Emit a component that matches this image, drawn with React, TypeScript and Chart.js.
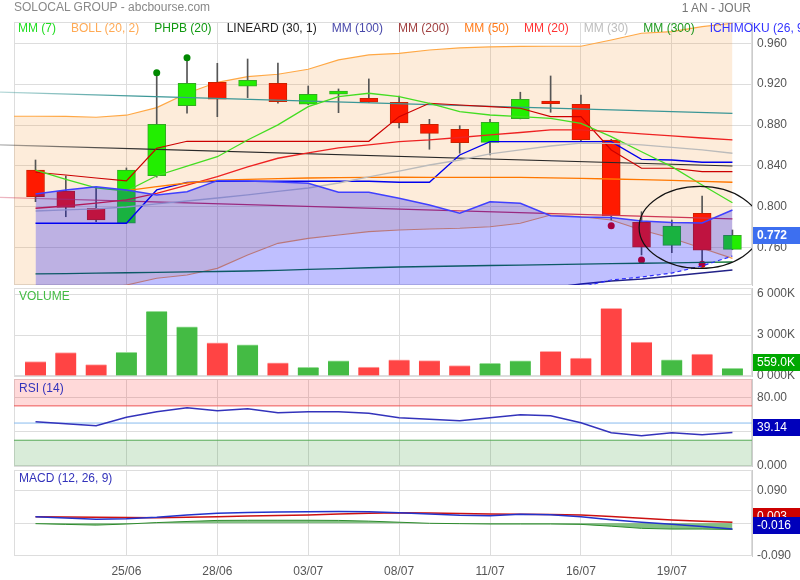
import React, { useEffect, useRef } from "react";
import { Chart, registerables } from "chart.js";

Chart.register(...registerables);

const FONT = 'Arial, "Liberation Sans", Helvetica, sans-serif';

// ---------------- data ----------------
const DATES = ["20/06", "21/06", "22/06", "25/06", "26/06", "27/06", "28/06", "29/06", "02/07", "03/07", "04/07", "05/07",
  "08/07", "09/07", "10/07", "11/07", "12/07", "15/07", "16/07", "17/07", "18/07", "19/07", "22/07", "23/07"];
const LABELED_DAYS = [3, 6, 9, 12, 15, 18, 21];

const OPEN = [0.8360, 0.8155, 0.7986, 0.7839, 0.8305, 0.8989, 0.9218, 0.9179, 0.9209, 0.9003, 0.9101, 0.9062,
  0.9023, 0.8807, 0.8758, 0.8631, 0.8862, 0.9035, 0.9003, 0.8654, 0.7849, 0.7623, 0.7937, 0.7584];
const HIGH = [0.8458, 0.8302, 0.8187, 0.8380, 0.9312, 0.9459, 0.9404, 0.9446, 0.9407, 0.9182, 0.9153, 0.9251,
  0.9084, 0.8856, 0.8794, 0.8856, 0.9121, 0.9280, 0.9094, 0.8660, 0.7952, 0.7871, 0.8106, 0.7773];
const LOW = [0.8050, 0.7903, 0.7854, 0.7839, 0.8290, 0.8915, 0.8882, 0.9068, 0.9013, 0.9000, 0.8921, 0.9020,
  0.8771, 0.8563, 0.8524, 0.8507, 0.8860, 0.8925, 0.8637, 0.7871, 0.7529, 0.7551, 0.7470, 0.7580];
const CLOSE = [0.8099, 0.7995, 0.7871, 0.8360, 0.8807, 0.9209, 0.9052, 0.9238, 0.9029, 0.9101, 0.9133, 0.9023,
  0.8820, 0.8719, 0.8627, 0.8827, 0.9052, 0.9009, 0.8657, 0.7910, 0.7604, 0.7812, 0.7575, 0.7720];

// volume in thousands
const VOLUME = [1060, 1720, 830, 1730, 4740, 3590, 2430, 2290, 970, 630, 1110, 650,
  1190, 1120, 770, 920, 1110, 1800, 1310, 4950, 2490, 1190, 1610, 559];

// Bollinger (20, 2) – first value is the day before the visible window
const BOLL_UPPER = [0.8886, 0.8886, 0.8884, 0.8876, 0.8896, 0.8970, 0.9111, 0.9218, 0.9273, 0.9297, 0.9346, 0.9437,
  0.9486, 0.9502, 0.9534, 0.9554, 0.9564, 0.9569, 0.9571, 0.9571, 0.9632, 0.9698, 0.9714, 0.9762, 0.9796];
const BOLL_LOWER = [0.7088, 0.7108, 0.7147, 0.7186, 0.7235, 0.7301, 0.7333, 0.7398, 0.7529, 0.7643, 0.7692, 0.7724,
  0.7757, 0.7773, 0.7783, 0.7790, 0.7805, 0.7839, 0.7920, 0.7903, 0.7871, 0.7773, 0.7692, 0.7594, 0.7496];

const MM7 = [0.8360, 0.8269, 0.8185, 0.8155, 0.8304, 0.8399, 0.8490, 0.8654, 0.8801, 0.8980, 0.9078, 0.9111,
  0.9078, 0.9013, 0.8931, 0.8898, 0.8882, 0.8866, 0.8817, 0.8686, 0.8539, 0.8393, 0.8213, 0.8040];
const MM20 = [0.7986, 0.8008, 0.8037, 0.8067, 0.8132, 0.8213, 0.8295, 0.8390, 0.8475, 0.8527, 0.8576, 0.8605,
  0.8637, 0.8654, 0.8678, 0.8703, 0.8727, 0.8752, 0.8752, 0.8735, 0.8713, 0.8693, 0.8673, 0.8654];
const MM30 = [0.7959, 0.7969, 0.7979, 0.7998, 0.8028, 0.8057, 0.8086, 0.8116, 0.8150, 0.8184, 0.8233, 0.8292,
  0.8350, 0.8409, 0.8458, 0.8517, 0.8556, 0.8595, 0.8622, 0.8620, 0.8605, 0.8582, 0.8556, 0.8524];
const MM50_START = 3;
const MM50 = [0.8158, 0.8197, 0.8233, 0.8262, 0.8269, 0.8275, 0.8282, 0.8285, 0.8287, 0.8289, 0.8287,
  0.8287, 0.8287, 0.8287, 0.8284, 0.8279, 0.8272, 0.8265, 0.8258, 0.8249, 0.8240];
const MM100_START = 16;
const MM100 = [0.7150, 0.7206, 0.7245, 0.7274, 0.7294, 0.7323, 0.7352, 0.7381];
const MM300 = [0.7343, 0.7347, 0.7351, 0.7355, 0.7359, 0.7363, 0.7367, 0.7372, 0.7378, 0.7387, 0.7396, 0.7404,
  0.7411, 0.7416, 0.7421, 0.7426, 0.7430, 0.7434, 0.7440, 0.7444, 0.7448, 0.7452, 0.7456, 0.7460];

// Ichimoku
const TENKAN = [0.8338, 0.8311, 0.8282, 0.8253, 0.8573, 0.8641, 0.8641, 0.8641, 0.8641, 0.8641, 0.8641, 0.8641,
  0.8882, 0.9013, 0.8996, 0.8980, 0.8964, 0.8882, 0.8882, 0.8556, 0.8377, 0.8377, 0.8344, 0.8344];
const KIJUN = [0.7839, 0.7839, 0.7839, 0.7839, 0.8165, 0.8240, 0.8250, 0.8250, 0.8250, 0.8250, 0.8250, 0.8250,
  0.8240, 0.8240, 0.8507, 0.8637, 0.8637, 0.8637, 0.8637, 0.8637, 0.8465, 0.8458, 0.8436, 0.8436];
const CLOUD_TOP = [0.8125, 0.8165, 0.8197, 0.8165, 0.8116, 0.8148, 0.8256, 0.8253, 0.8243, 0.8230, 0.8142, 0.8142,
  0.8083, 0.8018, 0.7937, 0.8050, 0.8034, 0.7913, 0.7900, 0.7896, 0.7861, 0.7847, 0.7842, 0.7969];
const CLOUD_BOTTOM = [0.705, 0.705, 0.706, 0.706, 0.707, 0.707, 0.708, 0.708, 0.709, 0.709, 0.710, 0.710,
  0.711, 0.711, 0.712, 0.713, 0.714, 0.716, 0.7215, 0.7284, 0.7313, 0.7352, 0.7421, 0.7519];

// Linear regression channel (30, 1): end points
const LINEARD_X = [-1.5, 23];
const LINEARD_UP = [0.9124, 0.8915];
const LINEARD_MID = [0.8608, 0.8399];
const LINEARD_LOW = [0.8096, 0.7881];

// PHPB (20) markers
const PHPB_UP_X = [4, 5];
const PHPB_UP = [0.9312, 0.9459];
const PHPB_DOWN_X = [19, 20, 22];
const PHPB_DOWN = [0.7815, 0.7480, 0.7438];

// highlighted zone (ellipse), in data units
const ELLIPSE = { cx: 21.93, cy: 0.7798, rx: 2.01, ry: 0.0401 };

const RSI = [51.6, 49.2, 46.9, 56.7, 63.2, 67.9, 64.4, 66.7, 62.0, 63.2, 63.2, 61.3,
  56.2, 54.4, 52.7, 56.2, 59.7, 58.6, 50.4, 38.8, 35.3, 38.8, 36.4, 39.14];
const RSI_HIGH = 70;
const RSI_MID = 50;
const RSI_LOW = 30;

const MACD = [0.0184, 0.0145, 0.0110, 0.0125, 0.0167, 0.0230, 0.0278, 0.0300, 0.0315, 0.0323, 0.0325, 0.0323,
  0.0295, 0.0260, 0.0225, 0.0211, 0.0250, 0.0240, 0.0184, 0.0100, 0.0028, -0.0028, -0.0090, -0.0160];
const SIGNAL = [0.0184, 0.0175, 0.0165, 0.0160, 0.0155, 0.0170, 0.0184, 0.0200, 0.0215, 0.0231, 0.0255, 0.0278,
  0.0295, 0.0285, 0.0270, 0.0259, 0.0250, 0.0245, 0.0231, 0.0190, 0.0139, 0.0095, 0.0060, 0.0030];
const HIST = [-0.001, -0.003, -0.005, -0.002, 0.002, 0.005, 0.008, 0.0085, 0.0085, 0.0085, 0.008, 0.006,
  0.003, 0.000, -0.001, -0.002, -0.002, -0.002, -0.003, -0.008, -0.014, -0.016, -0.016, -0.017];

const PRICE_TICKS = [0.76, 0.8, 0.84, 0.88, 0.92, 0.96];
const VOLUME_TICKS = [0, 3000, 6000];
const RSI_TICKS = [0, 40, 80];
const MACD_TICKS = [-0.09, 0, 0.09];

const LEGEND = [
  ["MM (7)", "#22dd22"], ["BOLL (20, 2)", "#ffaa55"], ["PHPB (20)", "#119911"], ["LINEARD (30, 1)", "#222222"],
  ["MM (100)", "#4848aa"], ["MM (200)", "#a04040"], ["MM (50)", "#ff7a1a"], ["MM (20)", "#ff3333"],
  ["MM (30)", "#bdbdbd"], ["MM (300)", "#1f991f"], ["ICHIMOKU (26, 9, 52)", "#3333ff"],
];

// ---------------- layout (axis ranges / panels) ----------------
const X_MIN = -0.71;
const X_MAX = 23.646;
const H = 580;
const PANEL_MAIN = { top: 22, bottom: 285, min: 0.7235, max: 0.9808 };
const PANEL_VOL = { top: 288, bottom: 376, min: 0, max: 6440 };
const PANEL_RSI = { top: 379, bottom: 466, min: 0, max: 101.3 };
const PANEL_MACD = { top: 470, bottom: 556, min: -0.0908, max: 0.148 };

const GREEN_C = "#22ee00";
const RED_C = "#ff1a00";

const pts = (vals: number[], start = 0) => vals.map((y, i) => ({ x: i + start, y }));
const pairs = (xs: number[], ys: number[]) => xs.map((x, i) => ({ x, y: ys[i] }));

function fade(chart: any, rgb: string) {
  const { ctx, chartArea } = chart;
  if (!chartArea) return `rgb(${rgb})`;
  const g = ctx.createLinearGradient(0, 0, 140, 0);
  g.addColorStop(0, `rgba(${rgb},0.35)`);
  g.addColorStop(1, `rgba(${rgb},1)`);
  return g;
}

function xScale(axisHeight: number) {
  return {
    type: "linear",
    min: X_MIN,
    max: X_MAX,
    offset: false,
    afterBuildTicks: (s: any) => { s.ticks = LABELED_DAYS.map((v) => ({ value: v })); },
    afterFit: (s: any) => { s.height = axisHeight; },
    ticks: {
      display: axisHeight > 0, autoSkip: false, maxRotation: 0, minRotation: 0, padding: 8, color: "#555",
      font: { family: FONT, size: 12 }, callback: (v: any) => DATES[v] ?? "",
    },
    grid: { color: "#dddddd", drawTicks: false, offset: false },
    border: { display: false },
  };
}

function yScale(p: any, ticks: number[], fmt: (v: number) => string) {
  return {
    position: "right",
    min: p.min,
    max: p.max,
    afterBuildTicks: (s: any) => { s.ticks = ticks.map((v) => ({ value: v })); },
    afterFit: (s: any) => { s.width = 48; },
    ticks: { padding: 5, color: "#555", font: { family: FONT, size: 12 }, callback: (v: any) => fmt(Number(v)) },
    grid: { color: "#dddddd", drawTicks: false },
    border: { display: true, color: "#cccccc" },
  };
}

const framePlugin = {
  id: "frame",
  beforeDatasetsDraw(chart: any) {
    const { ctx, chartArea: a } = chart;
    ctx.save();
    ctx.strokeStyle = "#dddddd";
    ctx.lineWidth = 1;
    ctx.strokeRect(Math.round(a.left) + 0.5, Math.round(a.top) + 0.5, Math.round(a.width) - 1, Math.round(a.height) - 1);
    ctx.restore();
  },
};

function boxesPlugin(boxes: any[]) {
  return {
    id: "valueBoxes",
    afterDraw(chart: any) {
      const { ctx, chartArea: a, scales } = chart;
      boxes.forEach((b) => {
        let y = scales.y.getPixelForValue(b.value) + (b.dy || 0);
        if (b.clampBottom) y = Math.min(y, a.bottom - b.clampBottom);
        ctx.save();
        ctx.fillStyle = b.bg;
        ctx.fillRect(a.right + 1, Math.round(y - 8.5), chart.width - a.right - 1, 17);
        ctx.fillStyle = "#ffffff";
        ctx.font = `${b.bold ? "bold " : ""}12px ${FONT}`;
        ctx.textAlign = "left";
        ctx.textBaseline = "middle";
        ctx.fillText(b.text, a.right + 5, y + 0.5);
        ctx.restore();
      });
    },
  };
}

const ellipsePlugin = {
  id: "ellipse",
  afterDatasetsDraw(chart: any) {
    const { ctx, chartArea: a, scales } = chart;
    const px = scales.x.getPixelForValue(ELLIPSE.cx);
    const py = scales.y.getPixelForValue(ELLIPSE.cy);
    const rx = Math.abs(scales.x.getPixelForValue(ELLIPSE.cx + ELLIPSE.rx) - px);
    const ry = Math.abs(py - scales.y.getPixelForValue(ELLIPSE.cy + ELLIPSE.ry));
    ctx.save();
    ctx.beginPath();
    ctx.rect(a.left, a.top, a.width, a.height);
    ctx.clip();
    ctx.beginPath();
    ctx.ellipse(px, py, rx, ry, 0, 0, Math.PI * 2);
    ctx.strokeStyle = "#111111";
    ctx.lineWidth = 1.2;
    ctx.stroke();
    ctx.restore();
  },
};

function options(p: any, scales: any, axisHeight = 0) {
  return {
    responsive: false,
    maintainAspectRatio: false,
    animation: false,
    events: [],
    layout: { padding: { left: 14, right: 0, top: p.top, bottom: H - p.bottom - axisHeight } },
    plugins: { legend: { display: false }, tooltip: { enabled: false }, title: { display: false } },
    scales,
    elements: { point: { radius: 0 }, line: { tension: 0 } },
  };
}

const line = (data: any[], color: any, width = 1.2, extra: any = {}) => ({
  type: "line", data, borderColor: color, borderWidth: width, pointRadius: 0, fill: false, order: 2, ...extra,
});

function mainConfig(): any {
  const up = CLOSE.map((c, i) => c >= OPEN[i]);
  return {
    type: "line",
    data: {
      datasets: [
        line(pts(BOLL_UPPER, -1), "#ffa845", 1.2, { fill: "+1", backgroundColor: "rgba(245,160,70,0.2)", order: 6 }),
        line(pts(BOLL_LOWER, -1), "#f8a050", 1.2, { order: 6 }),
        {
          type: "bar", data: HIGH.map((h, i) => ({ x: i, y: [LOW[i], h] })), backgroundColor: "#555555",
          barThickness: 1, grouped: false, order: 5,
        },
        {
          type: "bar", data: OPEN.map((o, i) => ({ x: i, y: [o, CLOSE[i]] })),
          backgroundColor: up.map((u) => (u ? GREEN_C : RED_C)),
          borderColor: up.map((u) => (u ? "#33aa22" : "#cc2200")),
          borderWidth: 1, borderSkipped: false, barThickness: 18, grouped: false, order: 4,
        },
        line(pairs(LINEARD_X, LINEARD_UP), (c: any) => fade(c.chart, "58,150,150"), 1.2, { clip: { left: 14, top: 0, right: 0, bottom: 0 }, order: 3 }),
        line(pairs(LINEARD_X, LINEARD_MID), (c: any) => fade(c.chart, "40,40,40"), 1.2, { clip: { left: 14, top: 0, right: 0, bottom: 0 }, order: 3 }),
        line(pairs(LINEARD_X, LINEARD_LOW), (c: any) => fade(c.chart, "205,55,85"), 1.2, { clip: { left: 14, top: 0, right: 0, bottom: 0 }, order: 3 }),
        line(pts(MM300), "#117733", 1.3),
        line(pts(MM30), "#bbbbbb", 1.3),
        line(pts(MM50, MM50_START), "#ff7700", 1.3),
        line(pts(MM20), "#ee2222", 1.3),
        line(pts(MM7), "#44dd22", 1.3),
        line(pts(TENKAN), "#cc0000", 1.2),
        line(pts(KIJUN), "#0000ee", 1.3),
        line(pts(MM100, MM100_START), "#222288", 1.5),
        {
          type: "line", showLine: false, data: pairs(PHPB_UP_X, PHPB_UP), pointRadius: 3.5,
          pointBackgroundColor: "#008800", pointBorderWidth: 0, order: 2,
        },
        {
          type: "line", showLine: false, data: pairs(PHPB_DOWN_X, PHPB_DOWN), pointRadius: 3.5,
          pointBackgroundColor: "#dd0000", pointBorderWidth: 0, order: 2,
        },
        line(pts(CLOUD_TOP), "#4040ff", 1.5, { fill: "+1", backgroundColor: "rgba(0,0,255,0.25)", order: 1 }),
        line(pts(CLOUD_BOTTOM), "#3333ff", 1.2, { borderDash: [4, 3], order: 1 }),
      ],
    },
    options: options(PANEL_MAIN, {
      x: xScale(0),
      y: yScale(PANEL_MAIN, PRICE_TICKS, (v) => v.toFixed(3)),
    }),
    plugins: [
      framePlugin, ellipsePlugin,
      boxesPlugin([{ value: CLOSE[CLOSE.length - 1], text: CLOSE[CLOSE.length - 1].toFixed(3), bg: "#3d6ff0", bold: true }]),
    ],
  };
}

function volumeConfig(): any {
  const up = CLOSE.map((c, i) => c >= OPEN[i]);
  const last = VOLUME[VOLUME.length - 1];
  return {
    type: "bar",
    data: {
      datasets: [{
        type: "bar", data: pts(VOLUME),
        backgroundColor: up.map((u) => (u ? "#44bb44" : "#ff4444")),
        borderColor: up.map((u) => (u ? "#99dd99" : "#ffaaaa")),
        borderWidth: { top: 1, left: 0, right: 0, bottom: 0 },
        borderSkipped: "start", barThickness: 21, grouped: false,
      }],
    },
    options: options(PANEL_VOL, {
      x: xScale(0),
      y: yScale(PANEL_VOL, VOLUME_TICKS, (v) => `${Math.floor(v / 1000)} ${String(v % 1000).padStart(3, "0")}K`),
    }),
    plugins: [framePlugin, boxesPlugin([{ value: last, text: `${last.toFixed(1)}K`, bg: "#00a800", clampBottom: 13.5 }])],
  };
}

function rsiConfig(): any {
  const last = RSI[RSI.length - 1];
  return {
    type: "line",
    data: {
      datasets: [
        line(pairs([X_MIN, X_MAX], [RSI_HIGH, RSI_HIGH]), "#ee5555", 1, { fill: "end", backgroundColor: "rgba(255,0,0,0.15)", order: 3 }),
        line(pairs([X_MIN, X_MAX], [RSI_MID, RSI_MID]), "#88bbee", 1, { order: 3 }),
        line(pairs([X_MIN, X_MAX], [RSI_LOW, RSI_LOW]), "#55aa55", 1, { fill: "start", backgroundColor: "rgba(0,128,0,0.15)", order: 3 }),
        line(pts(RSI), "#3333bb", 1.5, { order: 1 }),
      ],
    },
    options: options(PANEL_RSI, {
      x: xScale(0),
      y: yScale(PANEL_RSI, RSI_TICKS, (v) => v.toPrecision(4)),
    }),
    plugins: [framePlugin, boxesPlugin([{ value: last, text: last.toFixed(2), bg: "#0000bb", dy: -5 }])],
  };
}

const MACD_AXIS_HEIGHT = 24;

function macdConfig(): any {
  const m = MACD[MACD.length - 1];
  const s = SIGNAL[SIGNAL.length - 1];
  return {
    type: "line",
    data: {
      datasets: [
        line(pts(HIST), "#2e8b2e", 1, { fill: "origin", backgroundColor: "rgba(30,140,30,0.55)", order: 3 }),
        line(pts(SIGNAL), "#cc1111", 1.5, { order: 2 }),
        line(pts(MACD), "#2233cc", 1.5, { order: 1 }),
      ],
    },
    options: options(PANEL_MACD, {
      x: xScale(MACD_AXIS_HEIGHT),
      y: yScale(PANEL_MACD, MACD_TICKS, (v) => v.toFixed(3)),
    }, MACD_AXIS_HEIGHT),
    plugins: [framePlugin, boxesPlugin([
      { value: s, text: s.toFixed(3), bg: "#cc0000", dy: -6 },
      { value: m, text: m.toFixed(3), bg: "#0000bb", dy: -4 },
    ])],
  };
}

const canvasStyle: any = { position: "absolute", left: 0, top: 0, width: 800, height: H };
const textBase: any = { position: "absolute", fontFamily: FONT, fontSize: 12, lineHeight: "15px", whiteSpace: "nowrap" };

export default function App() {
  const r1 = useRef<HTMLCanvasElement>(null);
  const r2 = useRef<HTMLCanvasElement>(null);
  const r3 = useRef<HTMLCanvasElement>(null);
  const r4 = useRef<HTMLCanvasElement>(null);

  useEffect(() => {
    const charts = [
      new Chart(r1.current as any, mainConfig()),
      new Chart(r2.current as any, volumeConfig()),
      new Chart(r3.current as any, rsiConfig()),
      new Chart(r4.current as any, macdConfig()),
    ];
    return () => charts.forEach((c) => c.destroy());
  }, []);

  return (
    <div style={{ position: "absolute", left: 0, top: 0, width: 800, height: H, background: "#ffffff", overflow: "hidden" }}>
      <canvas ref={r1} width={800} height={H} style={canvasStyle} />
      <canvas ref={r2} width={800} height={H} style={canvasStyle} />
      <canvas ref={r3} width={800} height={H} style={canvasStyle} />
      <canvas ref={r4} width={800} height={H} style={canvasStyle} />
      <div style={{ ...textBase, left: 14, top: 0, color: "#888888" }}>SOLOCAL GROUP - abcbourse.com</div>
      <div style={{ ...textBase, right: 49, top: 1, color: "#777777" }}>1 AN - JOUR</div>
      <div style={{ ...textBase, left: 18, top: 21, display: "flex", gap: 15 }}>
        {LEGEND.map(([t, c]) => (
          <span key={t} style={{ color: c }}>{t}</span>
        ))}
      </div>
      <div style={{ ...textBase, left: 19, top: 289, color: "#44bb44" }}>VOLUME</div>
      <div style={{ ...textBase, left: 19, top: 381, color: "#3333bb" }}>RSI (14)</div>
      <div style={{ ...textBase, left: 19, top: 471, color: "#3333bb" }}>MACD (12, 26, 9)</div>
    </div>
  );
}
